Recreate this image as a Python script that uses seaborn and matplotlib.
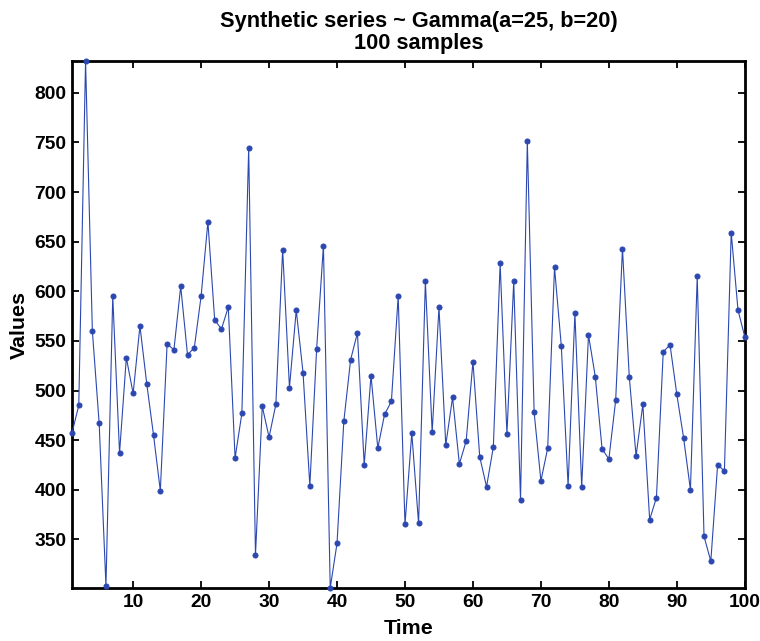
import numpy as np
import pandas as pd
import matplotlib
matplotlib.use("Agg")
import matplotlib.pyplot as plt
import seaborn as sns

time = list(range(1, 101))
values = [
    457, 485, 832, 560, 467, 303, 595, 437, 533, 497,
    565, 507, 455, 399, 547, 541, 605, 536, 543, 595,
    670, 571, 562, 584, 432, 477, 744, 334, 484, 453,
    486, 642, 503, 581, 518, 404, 542, 646, 301, 346,
    469, 531, 558, 425, 515, 442, 476, 489, 595, 365,
    457, 366, 610, 458, 584, 445, 493, 426, 449, 529,
    433, 403, 443, 628, 456, 610, 390, 751, 478, 409,
    442, 624, 545, 404, 578, 403, 556, 514, 441, 431,
    490, 643, 514, 434, 486, 370, 392, 539, 546, 496,
    452, 400, 615, 353, 328, 425, 419, 659, 581, 554,
]
x_ticks = [10, 20, 30, 40, 50, 60, 70, 80, 90, 100]
y_ticks = [350, 400, 450, 500, 550, 600, 650, 700, 750, 800]
title = "Synthetic series ~ Gamma(a=25, b=20)\n100 samples"

df = pd.DataFrame({"Time": time, "Values": values})

sns.set_style("ticks")
plt.rcParams["font.family"] = ["Liberation Sans", "DejaVu Sans"]
plt.rcParams["font.weight"] = "bold"
plt.rcParams["text.color"] = "black"
plt.rcParams["axes.labelcolor"] = "black"
plt.rcParams["xtick.color"] = "black"
plt.rcParams["ytick.color"] = "black"

fig = plt.figure(figsize=(7.6, 6.41), dpi=100)
ax = fig.add_axes([0.0947, 0.0827, 0.8853, 0.8221])

line_color = "#2c48b0"
sns.lineplot(data=df, x="Time", y="Values", ax=ax, color=line_color,
             linewidth=0.8, marker="o", markersize=3.6,
             markeredgecolor=line_color, markerfacecolor=line_color,
             clip_on=False, zorder=3)

ax.set_xlim(min(time), max(time))
ax.set_ylim(min(values), max(values))
ax.set_xticks(x_ticks)
ax.set_yticks(y_ticks)
ax.tick_params(direction="in", length=5, width=1.3, top=True, right=True,
               labelsize=13.8, pad=4, colors="black")
for lab in ax.get_xticklabels() + ax.get_yticklabels():
    lab.set_fontweight("bold")
for sp in ax.spines.values():
    sp.set_visible(True)
    sp.set_linewidth(2.0)
    sp.set_color("black")

ax.set_xlabel("Time", fontsize=15.4, fontweight="bold", labelpad=6, color="black")
ax.set_ylabel("Values", fontsize=15.4, fontweight="bold", labelpad=4, color="black")
ax.set_title(title, fontsize=15.7, fontweight="bold", pad=9, linespacing=1.05,
             color="black", x=0.516)

fig.savefig("out.png", dpi=100, facecolor="white")
